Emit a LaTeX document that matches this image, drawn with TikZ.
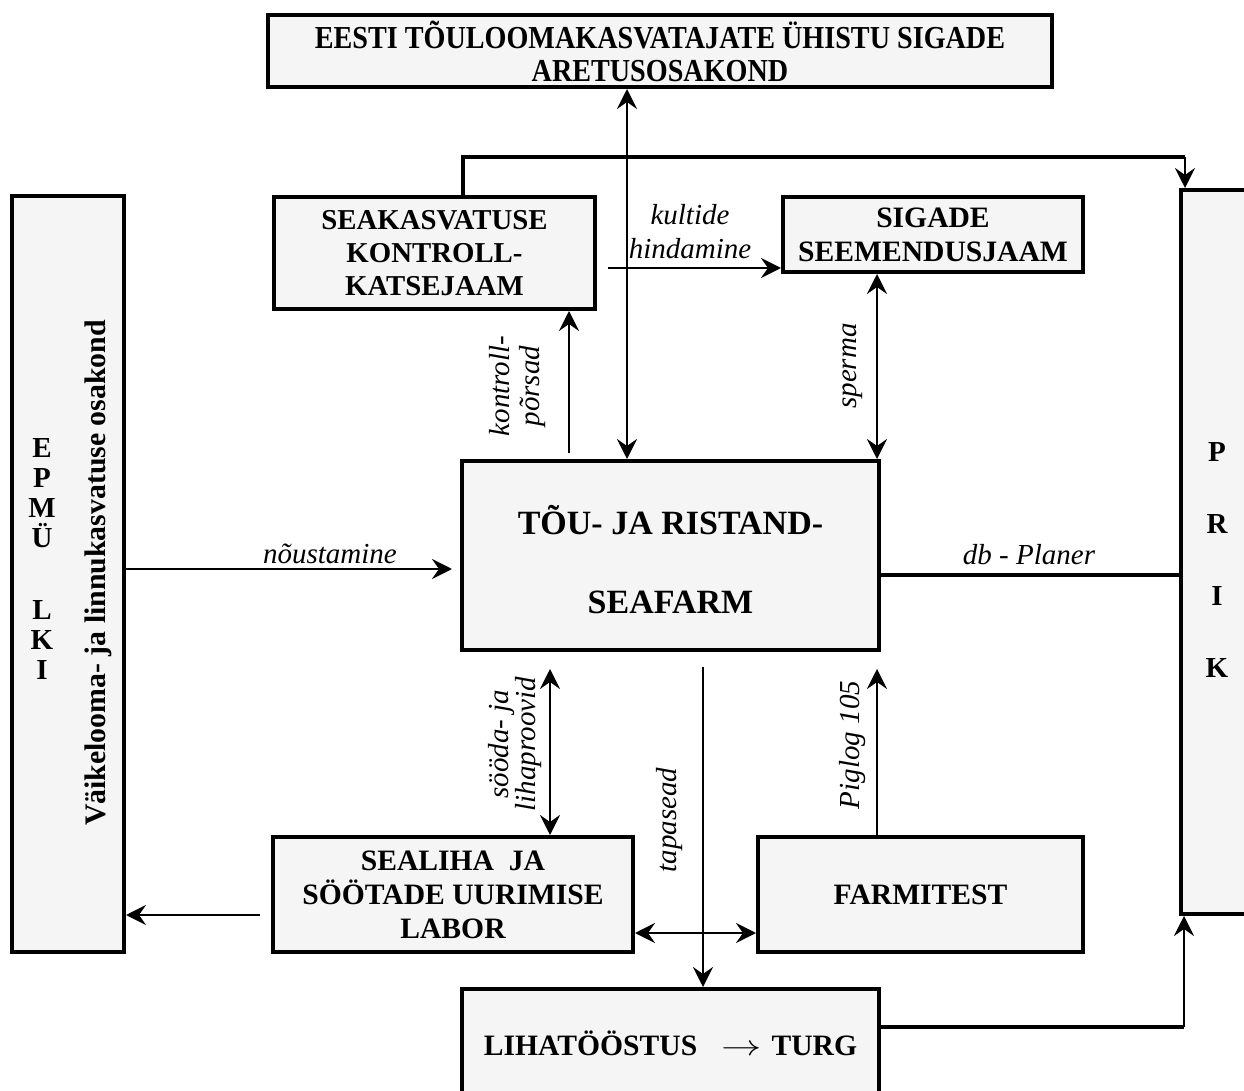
\documentclass[tikz,border=0pt]{standalone}
\usepackage{fontspec}
\setmainfont{Liberation Serif}
\usepackage{graphicx}
\usetikzlibrary{arrows.meta}
\definecolor{boxfill}{RGB}{244,245,244}
\begin{document}
\begin{tikzpicture}[x=0.5pt,y=-0.5pt,
  box/.style={draw, line width=2pt, fill=boxfill, align=center, inner sep=0pt, font=\bfseries\fontsize{14.8}{17}\selectfont},
  lbl/.style={inner sep=0pt, align=center, font=\itshape\fontsize{14.5}{17}\selectfont},
  arr/.style={line width=1.2pt, -{Stealth[length=10pt,width=10pt,inset=3.5pt]}},
  darr/.style={line width=1.2pt, {Stealth[length=10pt,width=10pt,inset=3.5pt]}-{Stealth[length=10pt,width=10pt,inset=3.5pt]}},
  heavy/.style={line width=2pt},
  letters/.style={inner sep=0pt, align=center, font=\bfseries\fontsize{14.5}{15}\selectfont}
]
\fill[white] (0,0) rectangle (1244,1091);
\useasboundingbox (0,0) rectangle (1244,1091);
\clip (0,0) rectangle (1244,1091);

% boxes
\node[box, minimum width=392pt, minimum height=36pt, font=\bfseries\fontsize{16}{16.5}\selectfont] (top) at (660,51) {\scalebox{0.88}[1]{EESTI TÕULOOMAKASVATAJATE ÜHISTU SIGADE}\\\scalebox{0.88}[1]{ARETUSOSAKOND}};
\node[box, minimum width=160.5pt, minimum height=56pt, font=\bfseries\fontsize{14.4}{16.5}\selectfont] (seak) at (434.5,253) {SEAKASVATUSE\\KONTROLL-\\KATSEJAAM};
\node[box, minimum width=150pt, minimum height=37.5pt] (sig) at (933,234.5) {SIGADE\\SEEMENDUSJAAM};
\node[box, minimum width=208.5pt, minimum height=94.5pt, font=\bfseries\fontsize{17}{39.5}\selectfont] (farm) at (670.5,555.5) {\rule{0pt}{19pt}TÕU- JA RISTAND-\\SEAFARM};
\node[box, minimum width=180pt, minimum height=57.5pt] (lab) at (453,894.5) {SEALIHA\ \ JA\\SÖÖTADE UURIMISE\\LABOR};
\node[box, minimum width=162.5pt, minimum height=57.5pt] (ftest) at (920.5,894.5) {FARMITEST};
\node[box, minimum width=208.5pt, minimum height=54pt] (liha) at (670.5,1043) {LIHATÖÖSTUS\hspace{12pt}\scalebox{1.4}[1]{$\rightarrow$}\hspace{5pt}TURG};
\node[box, minimum width=56pt, minimum height=378pt] (epmu) at (68,574) {};
\node[box, minimum width=59.5pt, minimum height=362pt] (prik) at (1240.5,552) {};

% texts in side boxes
\node[letters] (epmuL) at (42,559) {E\\P\\M\\Ü\\[21pt]L\\K\\I};
\node[inner sep=0pt, rotate=90, font=\bfseries\fontsize{14.9}{16}\selectfont] (vlk) at (98,573) {Väikelooma- ja linnukasvatuse osakond};
\node[letters] (prikL) at (1217,560) {P\\[21pt]R\\[21pt]I\\[21pt]K};

% labels
\node[lbl] (kult) at (690,232) {kultide\\hindamine};
\node[lbl, rotate=90, font=\itshape\fontsize{14.5}{15}\selectfont] (kp) at (518,386) {kontroll-\\põrsad};
\node[lbl, rotate=90] (sp) at (853,366) {sperma};
\node[lbl, anchor=base] (nou) at (330,564) {nõustamine};
\node[lbl, anchor=base] (db) at (1029,565) {db - Planer};
\node[lbl, rotate=90, font=\itshape\fontsize{14.5}{13.5}\selectfont] (sj) at (515,744) {sööda- ja\\lihaproovid};
\node[lbl, rotate=90] (tap) at (670,820) {tapasead};
\node[lbl, rotate=90] (pig) at (853,745) {Piglog 105};

% connectors
\coordinate (c1) at (1185,157);
\coordinate (kstart) at (608,268);
\draw[darr] (627,0 |- top.south) -- (627,0 |- farm.north);
\draw[heavy] (463,0 |- seak.north) |- (c1);
\draw[arr] (c1) -- (1185,0 |- prik.north);
\draw[arr] (kstart) -- (sig.west |- kstart);
\draw[arr, shorten <=3pt] (569,0 |- farm.north) -- (569,0 |- seak.south);
\draw[darr] (877,0 |- sig.south) -- (877,0 |- farm.north);
\draw[arr, shorten >=4pt] (epmu.east |- 0,569) -- (farm.west |- 0,569);
\draw[heavy] (farm.east |- 0,575) -- (prik.west |- 0,575);
\draw[darr, shorten <=8.5pt] (550,0 |- farm.south) -- (550,0 |- lab.north);
\draw[arr, shorten <=7.5pt] (703,0 |- farm.south) -- (703,0 |- liha.north);
\draw[arr, shorten >=8.5pt] (877,0 |- ftest.north) -- (877,0 |- farm.south);
\draw[darr] (lab.east |- 0,933) -- (ftest.west |- 0,933);
\draw[arr, shorten <=5.5pt] (lab.west |- 0,915) -- (epmu.east |- 0,915);
\coordinate (c2) at (1184,1027);
\draw[heavy] (liha.east |- c2) -- (c2);
\draw[arr] (c2) -- (prik.south -| c2);
\end{tikzpicture}
\end{document}
